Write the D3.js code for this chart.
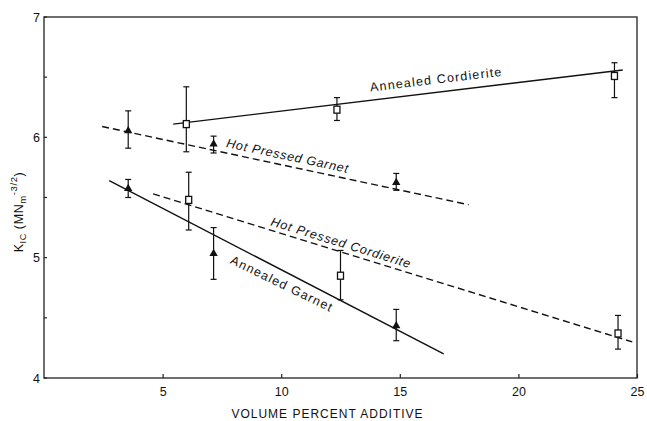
<!DOCTYPE html>
<html><head><meta charset="utf-8">
<script src="https://cdn.jsdelivr.net/npm/d3@7"></script>
<style>
html,body{margin:0;padding:0;background:#fff;}
svg text{font-family:"Liberation Sans",Arial,sans-serif;fill:#111;}
</style></head>
<body><svg id="c" width="647" height="421"></svg>
<script>
// ---- data ----
const xTicks = [5, 10, 15, 20, 25];
const yTicks = [4, 5, 6, 7];
const yMinorTicks = [4.5, 5.5, 6.5];

const acX = [6.0, 12.35, 24.05];
const acY = [6.11, 6.23, 6.51];
const acHi = [6.42, 6.33, 6.62];
const acLo = [5.88, 6.14, 6.33];

const hpgX = [3.55, 7.15, 14.85];
const hpgY = [6.05, 5.94, 5.62];
const hpgHi = [6.22, 6.01, 5.70];
const hpgLo = [5.91, 5.87, 5.56];

const hpcX = [6.1, 12.5, 24.2];
const hpcY = [5.48, 4.85, 4.37];
const hpcHi = [5.71, 5.06, 4.52];
const hpcLo = [5.23, 4.65, 4.24];

const agX = [3.55, 7.15, 14.85];
const agY = [5.57, 5.03, 4.43];
const agHi = [5.65, 5.25, 4.57];
const agLo = [5.50, 4.82, 4.31];

// fitted lines: [x0, y0, x1, y1]
const acFit = [5.45, 6.11, 24.4, 6.56];
const hpgFit = [2.45, 6.09, 17.9, 5.44];
const hpcFit = [4.6, 5.53, 24.8, 4.30];
const agFit = [2.75, 5.64, 16.85, 4.20];

const seriesNames = ["Annealed Cordierite", "Hot Pressed Garnet", "Hot Pressed Cordierite", "Annealed Garnet"];

// ---- drawing ----
const svg = d3.select("#c");
const x = d3.scaleLinear().domain([0, 25]).range([44, 637]);
const y = d3.scaleLinear().domain([4, 7]).range([378, 17]);

// frame
svg.append("rect").attr("x", x(0)).attr("y", y(7))
  .attr("width", x(25) - x(0)).attr("height", y(4) - y(7))
  .attr("fill", "none").attr("stroke", "#222").attr("stroke-width", 1.3);

// x axis
const xa = svg.append("g").attr("transform", `translate(0,${y(4)})`)
  .call(d3.axisBottom(x).tickValues(xTicks).tickSizeInner(-4).tickSizeOuter(0).tickPadding(9).tickFormat(d3.format("d")));
xa.select(".domain").remove();
xa.selectAll(".tick line").attr("stroke", "#222").attr("stroke-width", 1.2);
xa.selectAll(".tick text").attr("font-size", 12.5).attr("fill", "#111").attr("dy", "0.75em")
  .style("font-family", "'Liberation Sans',Arial,sans-serif");

// y axis
const ya = svg.append("g").attr("transform", `translate(${x(0)},0)`)
  .call(d3.axisLeft(y).tickValues(yTicks).tickSize(0).tickPadding(4).tickFormat(d3.format("d")));
ya.select(".domain").remove();
ya.selectAll(".tick text").attr("font-size", 12.5).attr("fill", "#111")
  .style("font-family", "'Liberation Sans',Arial,sans-serif");
svg.append("g").selectAll("line").data(yTicks.concat(yMinorTicks)).join("line")
  .attr("x1", x(0)).attr("x2", x(0) + 3).attr("y1", d => y(d)).attr("y2", d => y(d))
  .attr("stroke", "#222").attr("stroke-width", 1.2);

// axis titles
svg.append("text").attr("x", (x(0) + x(25)) / 2 - 13).attr("y", 418)
  .attr("text-anchor", "middle").attr("font-size", 12).attr("letter-spacing", 1)
  .text("VOLUME PERCENT ADDITIVE");

const yl = svg.append("text").attr("transform", "translate(23,212) rotate(-90)")
  .attr("text-anchor", "middle").attr("font-size", 12.5).attr("letter-spacing", 0.6);
yl.append("tspan").text("K");
yl.append("tspan").attr("font-size", 9).attr("dy", 3).text("IC");
yl.append("tspan").attr("dy", -3).text(" (MN");
yl.append("tspan").attr("font-size", 9.5).attr("dy", 3).text("m");
yl.append("tspan").attr("font-size", 9.5).attr("dy", -9).text("-3/2");
yl.append("tspan").attr("dy", 6).text(")");

// fitted lines
function fit(f, dashed) {
  svg.append("line").attr("x1", x(f[0])).attr("y1", y(f[1])).attr("x2", x(f[2])).attr("y2", y(f[3]))
    .attr("stroke", "#111").attr("stroke-width", 1.4)
    .attr("stroke-dasharray", dashed ? "7,4" : null);
}
fit(acFit, false); fit(hpgFit, true); fit(hpcFit, true); fit(agFit, false);

// error bars
function errs(xs, lo, hi) {
  const g = svg.append("g").attr("stroke", "#111").attr("stroke-width", 1.2);
  xs.forEach((v, i) => {
    const px = x(v);
    g.append("line").attr("x1", px).attr("x2", px).attr("y1", y(lo[i])).attr("y2", y(hi[i]));
    g.append("line").attr("x1", px - 3).attr("x2", px + 3).attr("y1", y(lo[i])).attr("y2", y(lo[i]));
    g.append("line").attr("x1", px - 3).attr("x2", px + 3).attr("y1", y(hi[i])).attr("y2", y(hi[i]));
  });
}
errs(acX, acLo, acHi); errs(hpgX, hpgLo, hpgHi); errs(hpcX, hpcLo, hpcHi); errs(agX, agLo, agHi);

// markers
function squares(xs, ys) {
  svg.append("g").selectAll("rect").data(xs).join("rect")
    .attr("x", (d) => x(d) - 3).attr("y", (d, i) => y(ys[i]) - 3.5)
    .attr("width", 6).attr("height", 7).attr("fill", "#fff").attr("stroke", "#111").attr("stroke-width", 1.3);
}
function triangles(xs, ys) {
  const sym = d3.symbol().type(d3.symbolTriangle).size(30);
  svg.append("g").selectAll("path").data(xs).join("path")
    .attr("d", sym).attr("transform", (d, i) => `translate(${x(d)},${y(ys[i]) - 0.5})`)
    .attr("fill", "#111");
}
squares(acX, acY); squares(hpcX, hpcY);
triangles(hpgX, hpgY); triangles(agX, agY);

// line labels (rotated along their fitted lines)
function angleOf(f) {
  return Math.atan2(y(f[3]) - y(f[1]), x(f[2]) - x(f[0])) * 180 / Math.PI;
}
const labelDefs = [
  { name: seriesNames[0], f: acFit, at: [13.77, 6.38], italic: false, ang: 0, ls: 1.2 },
  { name: seriesNames[1], f: hpgFit, at: [7.66, 5.92], italic: true, ang: 0, ls: 0.8 },
  { name: seriesNames[2], f: hpcFit, at: [9.53, 5.27], italic: true, ang: 0, ls: 0.9 },
  { name: seriesNames[3], f: agFit, at: [7.82, 4.955], italic: false, ang: -1.5, ls: 1.2 }
];
labelDefs.forEach(l => {
  const a = angleOf(l.f) + l.ang;
  svg.append("text")
    .attr("transform", `translate(${x(l.at[0])},${y(l.at[1])}) rotate(${a})`)
    .attr("font-size", 12.5).attr("letter-spacing", l.ls)
    .attr("font-style", l.italic ? "italic" : "normal")
    .text(l.name);
});
</script></body></html>
